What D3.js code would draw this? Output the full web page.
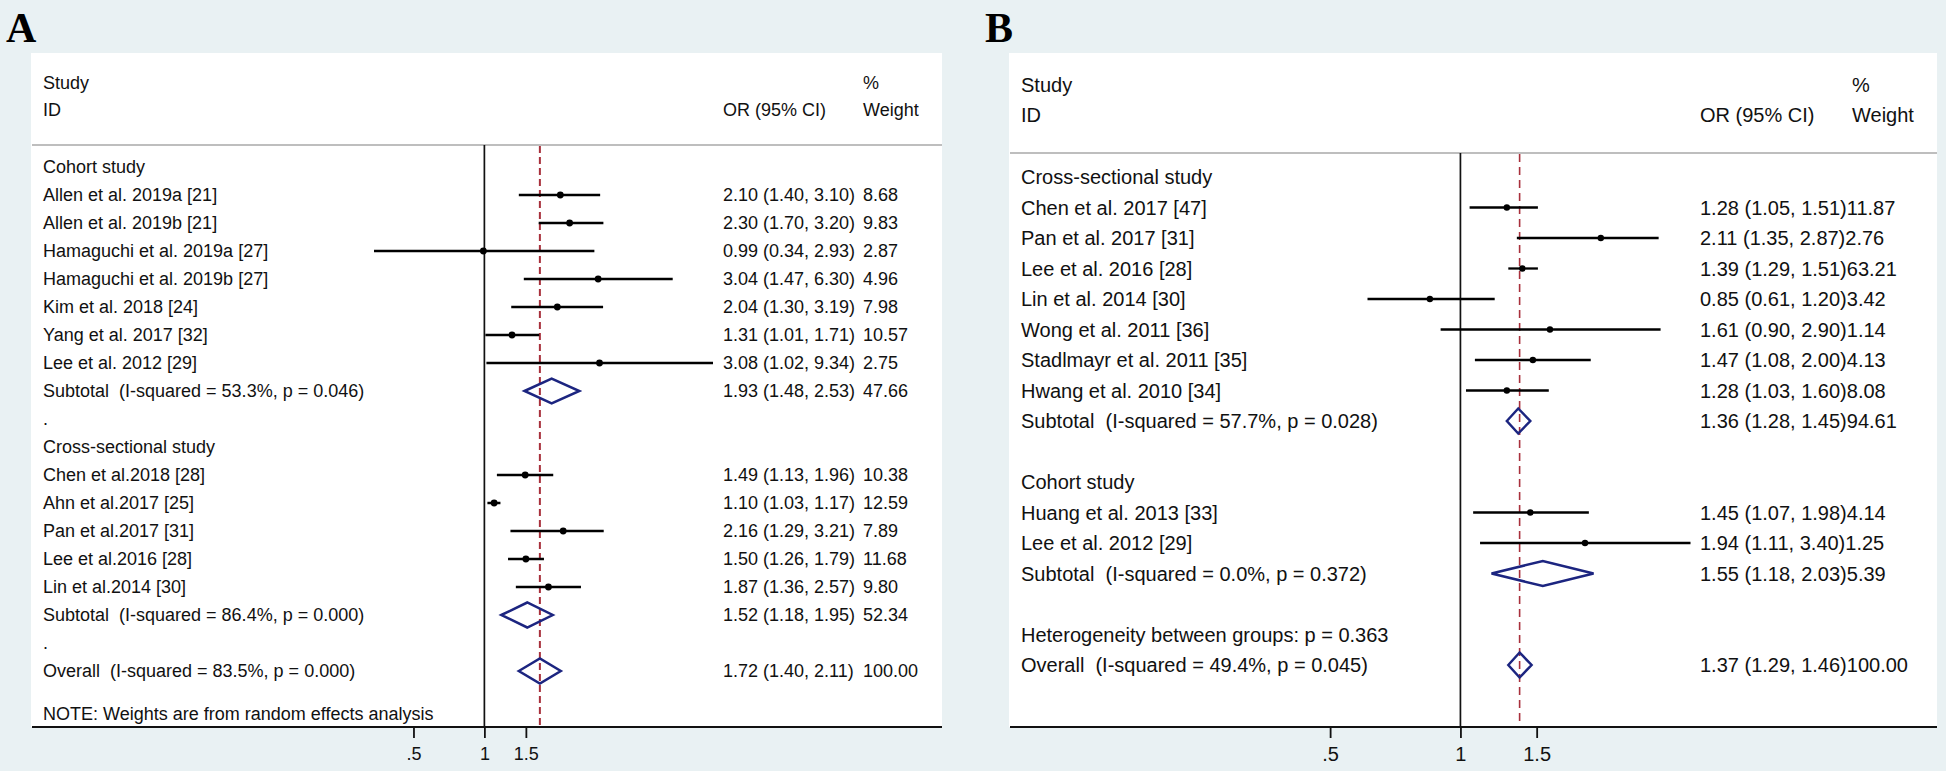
<!DOCTYPE html>
<html>
<head>
<meta charset="utf-8">
<script src="https://cdn.jsdelivr.net/npm/d3@7"></script>
<style>
  html, body { margin: 0; padding: 0; background: #e9f1f3; }
  svg { display: block; }
  text { font-family: "Liberation Sans", Arial, sans-serif; fill: #111; white-space: pre; }
</style>
</head>
<body>
<svg id="chart" width="1946" height="771"></svg>
<script>
// ---------------- Panel A data ----------------
const aGroups = ["Cohort study", "Cross-sectional study"];
const aStudies = ["Allen et al. 2019a [21]", "Allen et al. 2019b [21]", "Hamaguchi et al. 2019a [27]",
  "Hamaguchi et al. 2019b [27]", "Kim et al. 2018 [24]", "Yang et al. 2017 [32]", "Lee et al. 2012 [29]",
  "Chen et al.2018 [28]", "Ahn et al.2017 [25]", "Pan et al.2017 [31]", "Lee et al.2016 [28]", "Lin et al.2014 [30]"];
const aStudyGroup = [0, 0, 0, 0, 0, 0, 0, 1, 1, 1, 1, 1];
const aOR = [2.10, 2.30, 0.99, 3.04, 2.04, 1.31, 3.08, 1.49, 1.10, 2.16, 1.50, 1.87];
const aLo = [1.40, 1.70, 0.34, 1.47, 1.30, 1.01, 1.02, 1.13, 1.03, 1.29, 1.26, 1.36];
const aHi = [3.10, 3.20, 2.93, 6.30, 3.19, 1.71, 9.34, 1.96, 1.17, 3.21, 1.79, 2.57];
const aWeight = [8.68, 9.83, 2.87, 4.96, 7.98, 10.57, 2.75, 10.38, 12.59, 7.89, 11.68, 9.80];
const aSumLabels = ["Subtotal  (I-squared = 53.3%, p = 0.046)", "Subtotal  (I-squared = 86.4%, p = 0.000)",
  "Overall  (I-squared = 83.5%, p = 0.000)"];
const aSumOR = [1.93, 1.52, 1.72];
const aSumLo = [1.48, 1.18, 1.40];
const aSumHi = [2.53, 1.95, 2.11];
const aSumWeight = [47.66, 52.34, 100.00];
const aNote = "NOTE: Weights are from random effects analysis";

// ---------------- Panel B data ----------------
const bGroups = ["Cross-sectional study", "Cohort study"];
const bStudies = ["Chen et al. 2017 [47]", "Pan et al. 2017 [31]", "Lee et al. 2016 [28]", "Lin et al. 2014 [30]",
  "Wong et al. 2011 [36]", "Stadlmayr et al. 2011 [35]", "Hwang et al. 2010 [34]",
  "Huang et al. 2013 [33]", "Lee et al. 2012 [29]"];
const bStudyGroup = [0, 0, 0, 0, 0, 0, 0, 1, 1];
const bOR = [1.28, 2.11, 1.39, 0.85, 1.61, 1.47, 1.28, 1.45, 1.94];
const bLo = [1.05, 1.35, 1.29, 0.61, 0.90, 1.08, 1.03, 1.07, 1.11];
const bHi = [1.51, 2.87, 1.51, 1.20, 2.90, 2.00, 1.60, 1.98, 3.40];
const bWeight = [11.87, 2.76, 63.21, 3.42, 1.14, 4.13, 8.08, 4.14, 1.25];
const bSumLabels = ["Subtotal  (I-squared = 57.7%, p = 0.028)", "Subtotal  (I-squared = 0.0%, p = 0.372)",
  "Overall  (I-squared = 49.4%, p = 0.045)"];
const bSumOR = [1.36, 1.55, 1.37];
const bSumLo = [1.28, 1.18, 1.29];
const bSumHi = [1.45, 2.03, 1.46];
const bSumWeight = [94.61, 5.39, 100.00];
const bHetero = "Heterogeneity between groups: p = 0.363";

const tickValues = [0.5, 1, 1.5];
const tickLabels = [".5", "1", "1.5"];

const svg = d3.select("#chart");
svg.append("rect").attr("width", 1946).attr("height", 771).attr("fill", "#e9f1f3");

function fmt(v) { return v.toFixed(2); }

function drawPanel(cfg) {
  const g = svg.append("g");
  const fs = cfg.fontSize;
  const base = fs * 0.355;
  // plot region
  g.append("rect").attr("x", cfg.left).attr("y", cfg.top)
    .attr("width", cfg.right - cfg.left).attr("height", cfg.axisY - cfg.top).attr("fill", "#ffffff");
  // panel letter
  g.append("text").attr("x", cfg.letterX).attr("y", 42).text(cfg.letter)
    .style("font-family", "'Liberation Serif', 'Times New Roman', serif")
    .style("font-weight", "bold").style("font-size", "42px").style("fill", "#000");

  const x = d3.scaleLog()
    .domain([d3.min(cfg.lo), d3.max(cfg.hi)])
    .range(cfg.xRange);

  // header
  const hdr = (t, xx, yy) => g.append("text").attr("x", xx).attr("y", yy + base)
    .style("font-size", fs + "px").text(t);
  hdr("Study", cfg.textX, cfg.hdrY1);
  hdr("ID", cfg.textX, cfg.hdrY2);
  hdr("%", cfg.wX, cfg.hdrY1);
  hdr("OR (95% CI)", cfg.orX, cfg.hdrY2);
  hdr("Weight", cfg.wX, cfg.hdrY2);
  g.append("line").attr("x1", cfg.left + 1).attr("x2", cfg.right).attr("y1", cfg.hdrLineY).attr("y2", cfg.hdrLineY)
    .attr("stroke", "#a8a8a8").attr("stroke-width", 1.6);

  // build rows
  const rows = [];
  cfg.layout.forEach((item, i) => {
    const y = cfg.rowY0 + i * cfg.rowStep;
    rows.push(Object.assign({ y }, item));
  });

  // reference lines
  g.append("line").attr("x1", x(1)).attr("x2", x(1)).attr("y1", cfg.hdrLineY).attr("y2", cfg.axisY)
    .attr("stroke", "#111").attr("stroke-width", 1.7);
  g.append("line").attr("x1", x(cfg.overall)).attr("x2", x(cfg.overall)).attr("y1", cfg.hdrLineY + 1).attr("y2", cfg.axisY)
    .attr("stroke", "#a8303c").attr("stroke-width", cfg.dashW).attr("stroke-dasharray", cfg.dash);

  rows.forEach(r => {
    if (r.label !== undefined) {
      g.append("text").attr("x", cfg.textX).attr("y", r.y + base).style("font-size", fs + "px").text(r.label);
    }
    if (r.type === "study") {
      const k = r.k;
      g.append("line").attr("x1", x(cfg.lo[k])).attr("x2", x(cfg.hi[k])).attr("y1", r.y).attr("y2", r.y)
        .attr("stroke", "#000").attr("stroke-width", cfg.ciW);
      g.append("circle").attr("cx", x(cfg.or[k])).attr("cy", r.y).attr("r", cfg.dotR).attr("fill", "#000");
      writeVals(cfg.or[k], cfg.lo[k], cfg.hi[k], cfg.w[k], r.y);
    } else if (r.type === "sum") {
      const k = r.k;
      const h = 12.5;
      const pts = [[x(cfg.sumLo[k]), r.y], [x(cfg.sumOR[k]), r.y - h], [x(cfg.sumHi[k]), r.y], [x(cfg.sumOR[k]), r.y + h]];
      g.append("polygon").attr("points", pts.map(p => p.join(",")).join(" "))
        .attr("fill", "none").attr("stroke", "#1c2580").attr("stroke-width", 2.5);
      writeVals(cfg.sumOR[k], cfg.sumLo[k], cfg.sumHi[k], cfg.sumW[k], r.y);
    }
  });

  function writeVals(o, l, h, w, y) {
    const ci = fmt(o) + " (" + fmt(l) + ", " + fmt(h) + ")";
    if (cfg.joinWeight) {
      g.append("text").attr("x", cfg.orX).attr("y", y + base).style("font-size", fs + "px").text(ci + fmt(w));
    } else {
      g.append("text").attr("x", cfg.orX).attr("y", y + base).style("font-size", fs + "px").text(ci);
      g.append("text").attr("x", cfg.wX).attr("y", y + base).style("font-size", fs + "px").text(fmt(w));
    }
  }

  if (cfg.note) {
    g.append("text").attr("x", cfg.textX).attr("y", cfg.noteY + base).style("font-size", fs + "px").text(cfg.note);
  }

  // axis
  g.append("line").attr("x1", cfg.left + 1).attr("x2", cfg.right).attr("y1", cfg.axisY).attr("y2", cfg.axisY)
    .attr("stroke", "#111").attr("stroke-width", 1.8);
  const axis = d3.axisBottom(x).tickValues(tickValues).tickSize(11).tickPadding(9)
    .tickFormat((d, i) => tickLabels[i]);
  const ag = g.append("g").attr("transform", `translate(0,${cfg.axisY})`).call(axis);
  ag.select(".domain").remove();
  ag.selectAll(".tick line").attr("stroke", "#111").attr("stroke-width", 1.8);
  ag.selectAll(".tick text").style("font-size", fs + "px").style("font-family", "'Liberation Sans', Arial, sans-serif")
    .attr("fill", "#111");
}

// Layouts
const aLayout = [];
aGroups.forEach((grp, gi) => {
  aLayout.push({ type: "head", label: grp });
  aStudies.forEach((s, k) => { if (aStudyGroup[k] === gi) aLayout.push({ type: "study", label: s, k }); });
  aLayout.push({ type: "sum", label: aSumLabels[gi], k: gi });
  aLayout.push({ type: "blank", label: "." });
});
aLayout.push({ type: "sum", label: aSumLabels[2], k: 2 });

const bLayout = [];
bGroups.forEach((grp, gi) => {
  bLayout.push({ type: "head", label: grp });
  bStudies.forEach((s, k) => { if (bStudyGroup[k] === gi) bLayout.push({ type: "study", label: s, k }); });
  bLayout.push({ type: "sum", label: bSumLabels[gi], k: gi });
  bLayout.push({ type: "blank" });
});
bLayout.push({ type: "head", label: bHetero });
bLayout.push({ type: "sum", label: bSumLabels[2], k: 2 });

drawPanel({
  letter: "A", letterX: 6,
  left: 31, right: 942, top: 53, axisY: 727,
  fontSize: 18, textX: 43, orX: 723, wX: 863,
  hdrY1: 83, hdrY2: 110, hdrLineY: 145,
  rowY0: 167, rowStep: 28,
  layout: aLayout,
  or: aOR, lo: aLo, hi: aHi, w: aWeight,
  sumOR: aSumOR, sumLo: aSumLo, sumHi: aSumHi, sumW: aSumWeight,
  overall: aSumOR[2],
  xRange: [374, 713],
  dotR: 3.4, ciW: 2.5, dash: "7,4", dashW: 2,
  joinWeight: false,
  note: aNote, noteY: 714
});

drawPanel({
  letter: "B", letterX: 985,
  left: 1009, right: 1937, top: 53, axisY: 727,
  fontSize: 20, textX: 1021, orX: 1700, wX: 1852,
  hdrY1: 85, hdrY2: 115, hdrLineY: 153,
  rowY0: 177, rowStep: 30.5,
  layout: bLayout,
  or: bOR, lo: bLo, hi: bHi, w: bWeight,
  sumOR: bSumOR, sumLo: bSumLo, sumHi: bSumHi, sumW: bSumWeight,
  overall: bSumOR[2],
  xRange: [1367.5, 1690.5],
  dotR: 3.2, ciW: 2.3, dash: "8,5", dashW: 1.6,
  joinWeight: true
});
</script>
</body>
</html>
